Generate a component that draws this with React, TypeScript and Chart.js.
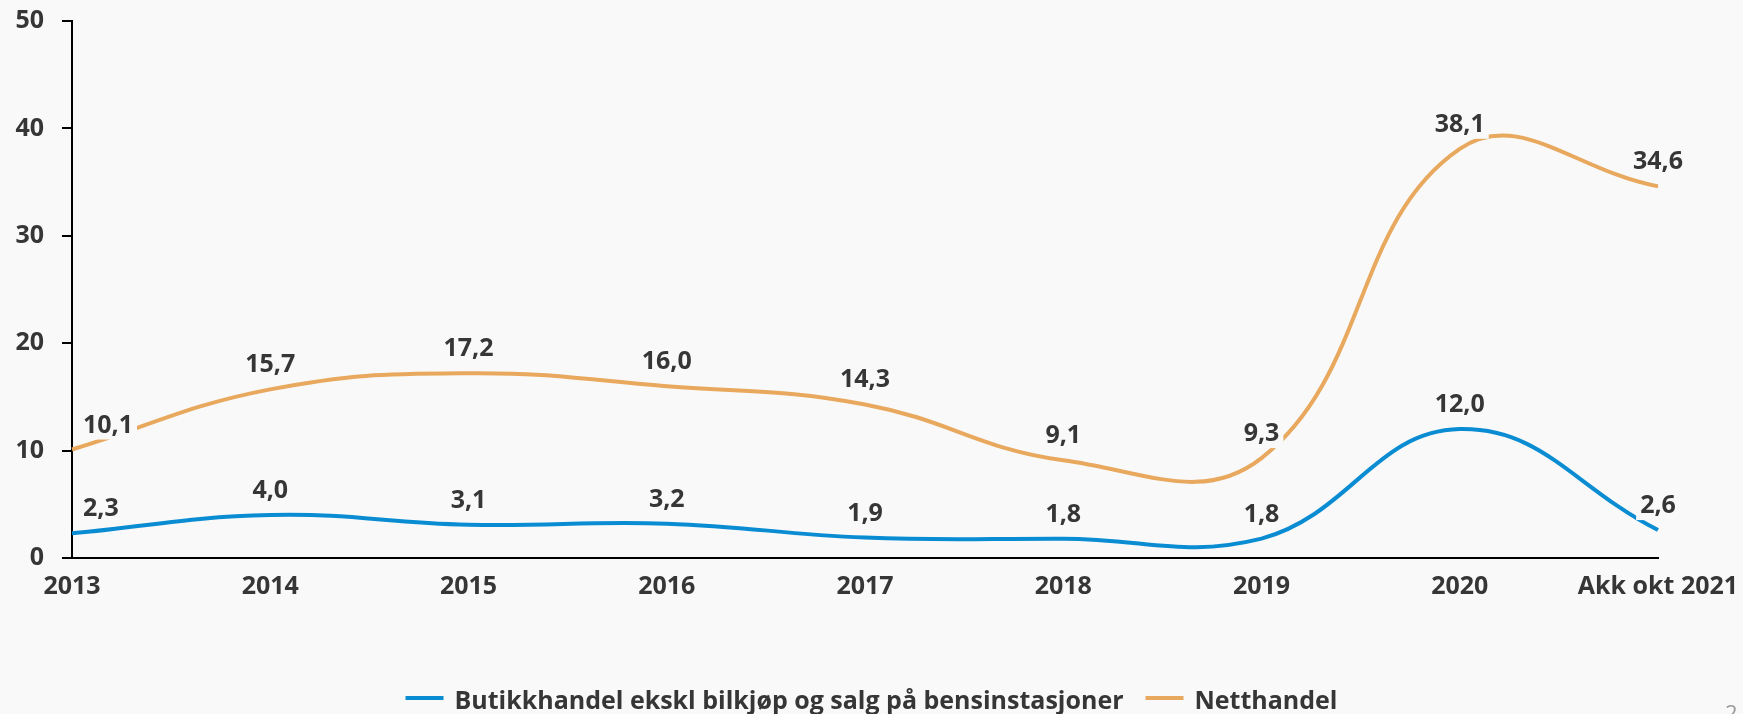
import { useEffect, useRef } from "react";
import { Chart, registerables } from "chart.js";

Chart.register(...registerables);

const categories = ["2013", "2014", "2015", "2016", "2017", "2018", "2019", "2020", "Akk okt 2021"];
const butikkhandel = [2.3, 4.0, 3.1, 3.2, 1.9, 1.8, 1.8, 12.0, 2.6];
const netthandel = [10.1, 15.7, 17.2, 16.0, 14.3, 9.1, 9.3, 38.1, 34.6];
const seriesNames = ["Butikkhandel ekskl bilkjøp og salg på bensinstasjoner", "Netthandel"];
const yMin = 0;
const yMax = 50;
const yStep = 10;
const PAGE_NUMBER = "2";

const W = 1743;
const H = 714;
const BG = "#f9f9f9";
const TEXT = "#363636";
const BLUE = "#0a8cd2";
const ORANGE = "#e8a85e";
const FONT = "'Open Sans', sans-serif";

const bgPlugin = {
  id: "bg",
  beforeDraw(chart: any) {
    const ctx = chart.ctx;
    ctx.save();
    ctx.fillStyle = BG;
    ctx.fillRect(0, 0, chart.width, chart.height);
    ctx.restore();
  },
};

const dataLabelPlugin = {
  id: "dataLabels",
  afterDatasetsDraw(chart: any) {
    const ctx = chart.ctx;
    ctx.save();
    ctx.font = `bold 25px ${FONT}`;
    ctx.textBaseline = "alphabetic";
    ctx.textAlign = "left";
    chart.data.datasets.forEach((ds: any, di: number) => {
      const meta = chart.getDatasetMeta(di);
      meta.data.forEach((pt: any, i: number) => {
        const v = ds.data[i] as number;
        const txt = v.toFixed(1).replace(".", ",");
        const w = ctx.measureText(txt).width;
        const left = i === 0 ? pt.x + 11 : pt.x - w / 2;
        const base = pt.y - 17;
        ctx.fillStyle = BG;
        ctx.fillRect(left - 4, base - 26, w + 8, 33);
        ctx.fillStyle = TEXT;
        ctx.fillText(txt, left, base);
      });
    });
    ctx.restore();
  },
};

const legendPlugin = {
  id: "customLegend",
  afterDraw(chart: any) {
    const ctx = chart.ctx;
    ctx.save();
    ctx.font = `bold 25px ${FONT}`;
    const boxW = 38;
    const gapText = 11;
    const spacing = 22;
    const items = chart.data.datasets.map((ds: any) => ({
      label: ds.label as string,
      color: ds.borderColor as string,
      w: boxW + gapText + ctx.measureText(ds.label).width,
    }));
    const total = items.reduce((s: number, it: any) => s + it.w, 0) + spacing * (items.length - 1);
    let x = (chart.width - total) / 2;
    const lineY = 698;
    const baseY = 708.5;
    items.forEach((it: any) => {
      ctx.fillStyle = it.color;
      ctx.fillRect(x, lineY - 2, boxW, 4);
      ctx.fillStyle = TEXT;
      ctx.textBaseline = "alphabetic";
      ctx.textAlign = "left";
      ctx.fillText(it.label, x + boxW + gapText, baseY);
      x += it.w + spacing;
    });
    // page number (partly cut off at the bottom edge)
    ctx.font = `22px ${FONT}`;
    ctx.fillStyle = "#9a9a9a";
    ctx.fillText(PAGE_NUMBER, 1725, 721);
    ctx.restore();
  },
};

export default function App() {
  const ref = useRef<HTMLCanvasElement | null>(null);

  useEffect(() => {
    if (!ref.current) return;
    const chart = new Chart(ref.current, {
      type: "line",
      data: {
        labels: categories,
        datasets: [
          {
            label: seriesNames[0],
            data: butikkhandel,
            borderColor: BLUE,
            backgroundColor: BLUE,
            borderWidth: 4,
            pointRadius: 0,
            tension: 0.42,
            fill: false,
          },
          {
            label: seriesNames[1],
            data: netthandel,
            borderColor: ORANGE,
            backgroundColor: ORANGE,
            borderWidth: 4,
            pointRadius: 0,
            tension: 0.42,
            fill: false,
          },
        ],
      },
      options: {
        responsive: false,
        animation: false,
        layout: { padding: { top: 21, right: 85, left: 0, bottom: 0 } },
        plugins: {
          legend: { display: false },
          tooltip: { enabled: false },
        },
        scales: {
          x: {
            type: "category",
            offset: false,
            grid: { display: false, drawTicks: false },
            border: { display: true, color: "#000", width: 2 },
            ticks: {
              autoSkip: false,
              maxRotation: 0,
              padding: 14,
              color: TEXT,
              font: { family: FONT, size: 25, weight: "bold" },
            },
            afterFit(scale: any) {
              scale.height = 156;
              scale.paddingLeft = 0;
              scale.paddingRight = 0;
            },
          },
          y: {
            min: yMin,
            max: yMax,
            grid: {
              drawOnChartArea: false,
              drawTicks: true,
              tickLength: 10,
              color: "#000",
              lineWidth: 2,
            },
            border: { display: true, color: "#000", width: 2 },
            ticks: {
              stepSize: yStep,
              padding: 18,
              color: TEXT,
              font: { family: FONT, size: 25, weight: "bold" },
            },
            afterFit(scale: any) {
              scale.width = 72;
              scale.paddingTop = 0;
              scale.paddingBottom = 0;
            },
          },
        },
      },
      plugins: [bgPlugin, dataLabelPlugin, legendPlugin],
    });
    return () => chart.destroy();
  }, []);

  return (
    <div style={{ position: "fixed", left: 0, top: 0, width: W, height: H, background: BG }}>
      <canvas ref={ref} width={W} height={H} style={{ display: "block" }} />
    </div>
  );
}
